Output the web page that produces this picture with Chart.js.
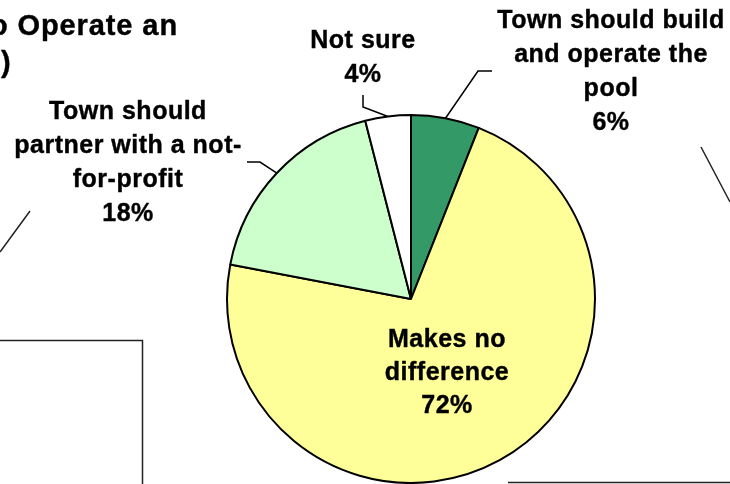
<!DOCTYPE html>
<html>
<head>
<meta charset="utf-8">
<script src="https://cdn.jsdelivr.net/npm/chart.js@4"></script>
<style>
    html, body { margin: 0; padding: 0; background: #fff; }
    #wrap { width: 730px; height: 484px; position: relative; }
</style>
</head>
<body>
<div id="wrap"><canvas id="chart" width="730" height="484"></canvas></div>
<script>
// survey answers, clockwise from the top
const categories = [
    ["Town should build", "and operate the", "pool"],
    ["Makes no", "difference"],
    ["Town should", "partner with a not-", "for-profit"],
    ["Not sure"]
];
const values = [6, 72, 18, 4];
const colors = ["#339966", "#FFFF99", "#CCFFCC", "#FFFFFF"];

// where each label sits: centre x, first baseline, and the elbow of its leader line
const labelSpots = [
    { x: 611, y: 28, step: 34, leader: [[492, 71], [478, 71]] },
    { x: 447, y: 347, step: 33, leader: null },
    { x: 128, y: 119, step: 34, leader: [[247, 162], [260, 162]] },
    { x: 363, y: 48, step: 34, leader: [[363, 95], [363, 107]] }
];

const labelFont = "bold 25px 'Liberation Sans', Arial, sans-serif";

// bold text with a hairline stroke so it reads a little heavier
function heavyText(ctx, t, x, y) {
    ctx.fillText(t, x, y);
    ctx.strokeText(t, x, y);
}

const pieLabels = {
    id: "pieLabels",
    afterDatasetsDraw(chart) {
        const ctx = chart.ctx;
        const arcs = chart.getDatasetMeta(0).data;
        ctx.save();
        ctx.font = labelFont;
        ctx.letterSpacing = "0.5px";
        ctx.fillStyle = "#000";
        ctx.textAlign = "center";
        ctx.textBaseline = "alphabetic";
        arcs.forEach((arc, i) => {
            const spot = labelSpots[i];
            const lines = categories[i].concat([values[i] + "%"]);
            ctx.strokeStyle = "#000";
            ctx.lineWidth = 0.4;
            lines.forEach((t, j) => heavyText(ctx, t, spot.x, spot.y + j * spot.step));

            if (spot.leader) {
                const p = arc.getProps(["x", "y", "startAngle", "endAngle", "outerRadius"], true);
                const mid = (p.startAngle + p.endAngle) / 2;
                const ex = p.x + Math.cos(mid) * p.outerRadius;
                const ey = p.y + Math.sin(mid) * p.outerRadius;
                ctx.beginPath();
                ctx.lineWidth = 1.5;
                ctx.moveTo(spot.leader[0][0], spot.leader[0][1]);
                ctx.lineTo(spot.leader[1][0], spot.leader[1][1]);
                ctx.lineTo(ex, ey);
                ctx.stroke();
            }
        });
        ctx.restore();
    }
};

// bits of the surrounding slide: heading and connector lines
const slideBits = {
    id: "slideBits",
    afterDraw(chart) {
        const ctx = chart.ctx;
        ctx.save();
        ctx.fillStyle = "#000";
        ctx.strokeStyle = "#000";
        ctx.lineWidth = 0.4;
        ctx.font = "bold 29px 'Liberation Sans', Arial, sans-serif";
        ctx.letterSpacing = "0.9px";
        ctx.textAlign = "right";
        heavyText(ctx, "to Operate an", 178, 35);
        ctx.textAlign = "left";
        heavyText(ctx, ")", 1, 72);

        ctx.strokeStyle = "#222";
        ctx.lineWidth = 1.5;
        ctx.beginPath();
        ctx.moveTo(30, 211); ctx.lineTo(0, 252);
        ctx.moveTo(0, 340.5); ctx.lineTo(142.5, 340.5); ctx.lineTo(142.5, 484);
        ctx.moveTo(701, 147); ctx.lineTo(730, 202);
        ctx.moveTo(508, 482.5); ctx.lineTo(730, 482.5);
        ctx.stroke();
        ctx.restore();
    }
};

new Chart(document.getElementById("chart"), {
    type: "pie",
    data: {
        labels: categories.map(c => c.join(" ")),
        datasets: [{
            data: values,
            backgroundColor: colors,
            borderColor: "#000",
            borderWidth: 2,
            borderAlign: "center"
        }]
    },
    options: {
        responsive: false,
        animation: false,
        radius: 184,
        layout: { padding: { left: 227, right: 135, top: 115, bottom: 1 } },
        plugins: {
            legend: { display: false },
            tooltip: { enabled: false },
            title: { display: false }
        }
    },
    plugins: [pieLabels, slideBits]
});
</script>
</body>
</html>
